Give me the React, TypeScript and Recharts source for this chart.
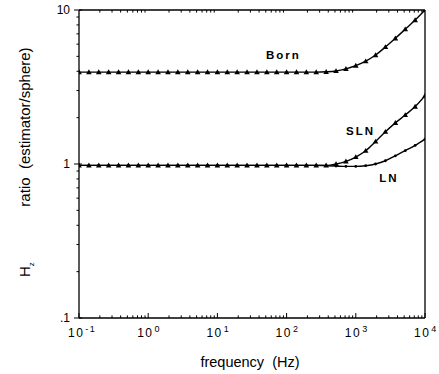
import { LineChart, Line, XAxis, YAxis, ReferenceDot, ReferenceLine } from 'recharts';

// frequency samples (Hz), 7 per decade
const FREQ = [
  0.1, 0.139, 0.193, 0.268, 0.373, 0.518, 0.72,
  1, 1.39, 1.93, 2.68, 3.73, 5.18, 7.2,
  10, 13.9, 19.3, 26.8, 37.3, 51.8, 72,
  100, 139, 193, 268, 373, 518, 720,
  1000, 1390, 1930, 2680, 3730, 5180, 7200,
  10000,
];

// ratio estimator/sphere
const BORN = [
  3.95, 3.95, 3.95, 3.95, 3.95, 3.95, 3.95,
  3.95, 3.95, 3.95, 3.95, 3.95, 3.95, 3.95,
  3.95, 3.95, 3.95, 3.95, 3.95, 3.95, 3.95,
  3.95, 3.95, 3.95, 3.95, 3.97, 4.02, 4.15,
  4.35, 4.65, 5.1, 5.75, 6.55, 7.5, 8.6,
  10,
];
const SLN = [
  0.98, 0.98, 0.98, 0.98, 0.98, 0.98, 0.98,
  0.98, 0.98, 0.98, 0.98, 0.98, 0.98, 0.98,
  0.98, 0.98, 0.98, 0.98, 0.98, 0.98, 0.98,
  0.98, 0.98, 0.98, 0.98, 0.98, 1.0, 1.04,
  1.11, 1.22, 1.4, 1.62, 1.85, 2.08, 2.36,
  2.78,
];
const LN = [
  0.98, 0.98, 0.98, 0.98, 0.98, 0.98, 0.98,
  0.98, 0.98, 0.98, 0.98, 0.98, 0.98, 0.98,
  0.98, 0.98, 0.98, 0.98, 0.98, 0.98, 0.98,
  0.98, 0.98, 0.98, 0.98, 0.975, 0.97, 0.965,
  0.965, 0.975, 1.0, 1.05, 1.13, 1.22, 1.32,
  1.45,
];

const X_MAJOR = [0.1, 1, 10, 100, 1000, 10000];
const X_EXP = ['-1', '0', '1', '2', '3', '4'];
const Y_MAJOR = [0.1, 1, 10];
const Y_LABELS = ['.1', '1', '10'];

const FONT = '"Liberation Sans", Arial, Helvetica, sans-serif';

// 2..9 times each decade, for the small log ticks
function minorsOf(majors: number[]) {
  const out: number[] = [];
  majors.slice(0, -1).forEach((m) => {
    for (let k = 2; k <= 9; k++) out.push(+(m * k).toPrecision(3));
  });
  return out;
}

const X_MINOR = minorsOf(X_MAJOR);
const Y_MINOR = minorsOf(Y_MAJOR);

function XTick(props: any) {
  const { x, y, payload } = props;
  const i = X_MAJOR.findIndex((m) => Math.abs(m - payload.value) / m < 1e-6);
  if (i < 0) return <g />;
  return (
    <g>
      <line x1={x} x2={x} y1={y} y2={y - 5} stroke="#000" strokeWidth={1} />
      <text x={x - 11} y={y + 19} fontSize={12} fill="#000" letterSpacing={1.5} fontFamily={FONT}>
        10
        <tspan dx={1} dy={-5} fontSize={9}>
          {X_EXP[i]}
        </tspan>
      </text>
    </g>
  );
}

function YTick(props: any) {
  const { x, y, payload } = props;
  const i = Y_MAJOR.findIndex((m) => Math.abs(m - payload.value) / m < 1e-6);
  if (i < 0) return <g />;
  return (
    <g>
      <line x1={x - 5} x2={x + 3} y1={y} y2={y} stroke="#000" strokeWidth={1} />
      <text x={x - 9} y={y + 4} textAnchor="end" fontSize={12} fill="#000" fontFamily={FONT}>
        {Y_LABELS[i]}
      </text>
    </g>
  );
}

function Triangle(props: any) {
  const { cx, cy, index } = props;
  if (cx == null || cy == null) return <g key={index} />;
  const s = 2.8;
  return (
    <path
      key={index}
      d={`M${cx},${cy - s}L${cx + s},${cy + s * 0.75}L${cx - s},${cy + s * 0.75}Z`}
      fill="#000"
    />
  );
}

function SmallDot(props: any) {
  const { cx, cy, index } = props;
  if (cx == null || cy == null) return <g key={index} />;
  return <circle key={index} cx={cx} cy={cy} r={1.4} fill="#000" />;
}

function XTitle() {
  return (
    <text x={250} y={367} textAnchor="middle" fontSize={14.5} fill="#000" fontFamily={FONT}>
      frequency{'\u00a0\u00a0'}(Hz)
    </text>
  );
}

function YTitle() {
  return (
    <g fill="#000" fontFamily={FONT}>
      <text transform="translate(30,277) rotate(-90)" fontSize={15}>
        H
        <tspan dy={4} fontSize={8}>
          z
        </tspan>
      </text>
      <text transform="translate(30,127) rotate(-90)" textAnchor="middle" fontSize={15}>
        ratio{'\u00a0\u00a0'}(estimator/sphere)
      </text>
    </g>
  );
}

const tagStyle = { fontSize: 11.5, fontWeight: 700, fill: '#000', fontFamily: FONT, letterSpacing: 2 };
const minorStroke = { stroke: '#000', strokeWidth: 1 };

export default function App() {
  const data = FREQ.map((f, i) => ({ f, born: BORN[i], sln: SLN[i], ln: LN[i] }));

  return (
    <div style={{ position: 'absolute', left: 0, top: 0, background: '#fff' }}>
      <LineChart
        width={439}
        height={374}
        data={data}
        margin={{ top: 10, right: 14, bottom: 0, left: 0 }}
        style={{ fontFamily: FONT }}
      >
        <XAxis
          xAxisId="x"
          dataKey="f"
          type="number"
          scale="log"
          domain={[0.1, 10000]}
          allowDataOverflow
          ticks={X_MAJOR}
          interval={0}
          tick={<XTick />}
          tickLine={false}
          tickSize={0}
          tickMargin={0}
          height={56}
          stroke="#000"
          strokeWidth={1.3}
          label={<XTitle />}
        />
        <YAxis
          yAxisId="y"
          type="number"
          scale="log"
          domain={[0.1, 10]}
          allowDataOverflow
          ticks={Y_MAJOR}
          interval={0}
          tick={<YTick />}
          tickLine={false}
          tickSize={0}
          tickMargin={0}
          width={79}
          stroke="#000"
          strokeWidth={1.3}
          label={<YTitle />}
        />
        <ReferenceLine xAxisId="x" yAxisId="y" y={10} stroke="#000" strokeWidth={1.3} />
        <ReferenceLine xAxisId="x" yAxisId="y" x={10000} stroke="#000" strokeWidth={1.3} />
        {X_MINOR.map((v) => (
          <ReferenceLine
            key={`xb${v}`}
            xAxisId="x"
            yAxisId="y"
            segment={[{ x: v, y: 0.1 }, { x: v, y: 0.104 }]}
            {...minorStroke}
          />
        ))}
        {X_MINOR.map((v) => (
          <ReferenceLine
            key={`xt${v}`}
            xAxisId="x"
            yAxisId="y"
            segment={[{ x: v, y: 10 }, { x: v, y: 9.62 }]}
            {...minorStroke}
          />
        ))}
        {Y_MINOR.map((v) => (
          <ReferenceLine
            key={`yl${v}`}
            xAxisId="x"
            yAxisId="y"
            segment={[{ x: 0.1, y: v }, { x: 0.092, y: v }]}
            ifOverflow="visible"
            {...minorStroke}
          />
        ))}
        <Line
          xAxisId="x"
          yAxisId="y"
          dataKey="born"
          type="monotone"
          stroke="#000"
          strokeWidth={1.4}
          dot={(p: any) => <Triangle key={p.index} {...p} />}
          isAnimationActive={false}
        />
        <Line
          xAxisId="x"
          yAxisId="y"
          dataKey="sln"
          type="monotone"
          stroke="#000"
          strokeWidth={1.4}
          dot={(p: any) => <Triangle key={p.index} {...p} />}
          isAnimationActive={false}
        />
        <Line
          xAxisId="x"
          yAxisId="y"
          dataKey="ln"
          type="monotone"
          stroke="#000"
          strokeWidth={1.4}
          dot={(p: any) => <SmallDot key={p.index} {...p} />}
          isAnimationActive={false}
        />
        <ReferenceDot
          xAxisId="x"
          yAxisId="y"
          x={90}
          y={5.1}
          r={0}
          stroke="none"
          label={{ value: 'Born', position: 'center', ...tagStyle }}
        />
        <ReferenceDot
          xAxisId="x"
          yAxisId="y"
          x={1170}
          y={1.64}
          r={0}
          stroke="none"
          label={{ value: 'SLN', position: 'center', ...tagStyle }}
        />
        <ReferenceDot
          xAxisId="x"
          yAxisId="y"
          x={3000}
          y={0.81}
          r={0}
          stroke="none"
          label={{ value: 'LN', position: 'center', ...tagStyle }}
        />
      </LineChart>
    </div>
  );
}
